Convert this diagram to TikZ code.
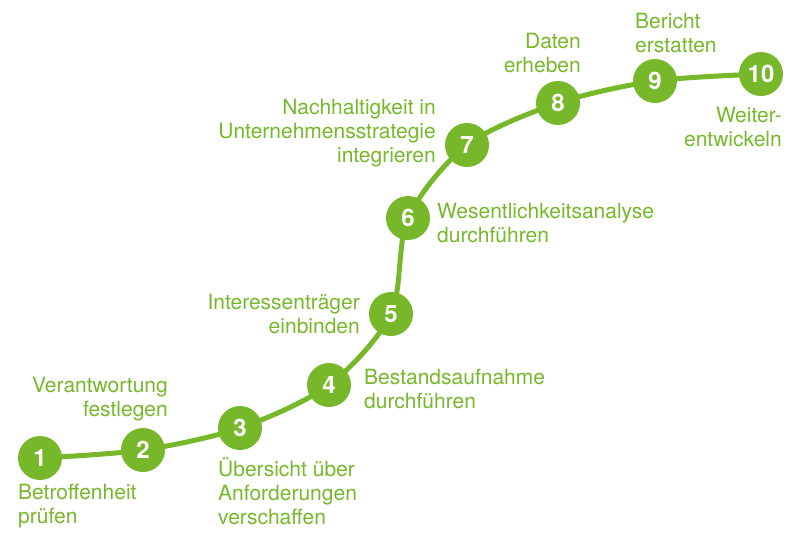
\documentclass[tikz,border=0pt]{standalone}
\usepackage{fontspec}
\setmainfont{TeX Gyre Heros}
\usetikzlibrary{backgrounds}
\definecolor{stepGreen}{HTML}{76B82A}
\tikzset{
  stepdot/.style={circle, fill=stepGreen, minimum size=44pt, inner sep=0pt,
    text=white, font=\fontsize{24}{24}\selectfont\bfseries},
  steptext/.style={text=stepGreen, font=\fontsize{21}{24}\selectfont, inner sep=0pt},
  leftlabel/.style={steptext, anchor=base west, align=left},
  rightlabel/.style={steptext, anchor=base east, align=right},
  steppath/.style={draw=stepGreen, line width=5pt}
}
\begin{document}
\begin{tikzpicture}[x=1pt,y=-1pt]
  \useasboundingbox (0,0) rectangle (800,533);
  % steps
  \node[stepdot] (s1) at (40,458) {1};
  \node[stepdot] (s2) at (143,450) {2};
  \node[stepdot] (s3) at (240,428) {3};
  \node[stepdot] (s4) at (329,385) {4};
  \node[stepdot] (s5) at (391,314) {5};
  \node[stepdot] (s6) at (408,218) {6};
  \node[stepdot] (s7) at (467,145) {7};
  \node[stepdot] (s8) at (558,103) {8};
  \node[stepdot] (s9) at (655,81) {9};
  \node[stepdot] (s10) at (761,74) {10};
  % labels (base = last line)
  \node[leftlabel] (l1) at (18,523) {Betroffenheit\\prüfen};
  \node[rightlabel] (l2) at (168,416) {Verantwortung\\festlegen};
  \node[leftlabel] (l3) at (218,524) {Übersicht über\\Anforderungen\\verschaffen};
  \node[leftlabel] (l4) at (364,408) {Bestandsaufnahme\\durchführen};
  \node[rightlabel] (l5) at (360,333) {Interessenträger\\einbinden};
  \node[leftlabel] (l6) at (437,242) {Wesentlichkeitsanalyse\\durchführen};
  \node[rightlabel] (l7) at (436,162) {Nachhaltigkeit in\\Unternehmensstrategie\\integrieren};
  \node[rightlabel] (l8) at (581,72) {Daten\\erheben};
  \node[leftlabel] (l9) at (635,52) {Bericht\\erstatten};
  \node[rightlabel] (l10) at (782,146) {Weiter-\\entwickeln};
  % path
  \begin{scope}[on background layer]
    \draw[steppath] plot[smooth] coordinates {(s1.center) (s2.center) (s3.center)
      (s4.center) (s5.center) (s6.center) (s7.center) (s8.center) (s9.center) (s10.center)};
  \end{scope}
\end{tikzpicture}
\end{document}
